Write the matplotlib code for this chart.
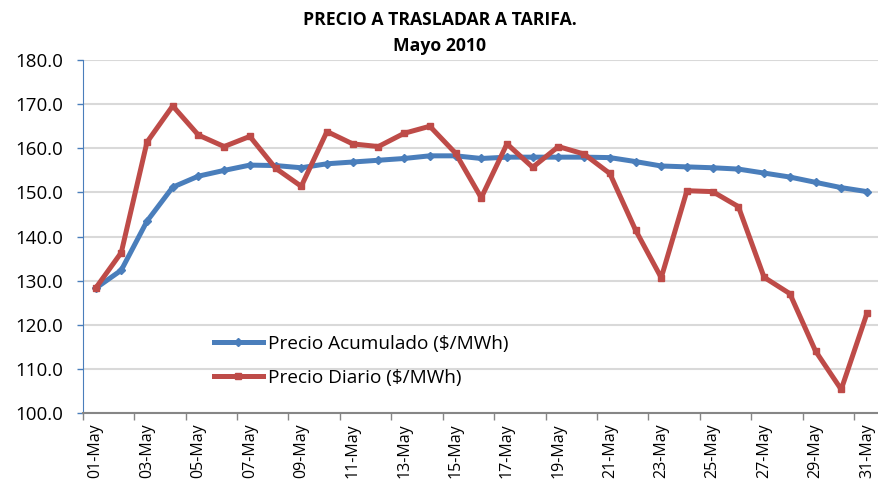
import matplotlib
matplotlib.use("Agg")
import matplotlib.pyplot as plt

plt.rcParams['font.family'] = ['Open Sans', 'DejaVu Sans']

days = list(range(1, 32))
day_labels = ["%02d-May" % d for d in days]

acumulado = [128.3, 132.4, 143.5, 151.2, 153.7, 155.0, 156.2, 156.1, 155.6, 156.5,
             156.9, 157.3, 157.7, 158.3, 158.3, 157.7, 158.0, 158.0, 158.0, 158.0,
             157.9, 157.0, 156.0, 155.8, 155.6, 155.3, 154.4, 153.5, 152.3, 151.1,
             150.2]
diario = [128.3, 136.4, 161.4, 169.6, 163.0, 160.4, 162.7, 155.5, 151.4, 163.8,
          161.0, 160.4, 163.4, 165.0, 158.9, 148.8, 161.0, 155.7, 160.4, 158.7,
          154.3, 141.5, 130.7, 150.4, 150.2, 146.8, 130.8, 127.1, 114.1, 105.4,
          122.6]

W, H = 879, 484
fig = plt.figure(figsize=(W / 100, H / 100), dpi=100)
left, right, top, bottom = 82.7, 905.5, 60.0, 413.3
ax = fig.add_axes([left / W, 1 - bottom / H, (right - left) / W, (bottom - top) / H])

blue = "#4A7EBB"
red = "#BE4B48"
ax.plot(days, acumulado, color=blue, lw=3.6, marker="D", ms=4, label="Precio Acumulado ($/MWh)", zorder=3)
ax.plot(days, diario, color=red, lw=3.6, marker="s", ms=4.5, label="Precio Diario ($/MWh)", zorder=4)

ax.set_xlim(0.5, 32.5)
ax.set_ylim(100, 180)
ax.set_yticks(range(100, 181, 10))
ax.set_yticklabels(["%.1f" % v for v in range(100, 181, 10)], fontsize=13.5)
ax.set_xticks(days[::2])
ax.set_xticklabels(day_labels[::2], rotation=90, fontsize=11.5)
ax.set_xticks([d + 0.5 for d in range(0, 33, 2)], minor=True)
ax.tick_params(axis="x", which="major", length=0, pad=7)
ax.tick_params(axis="x", which="minor", length=5, color="#868686", width=1)
ax.tick_params(axis="y", length=4, color=blue, width=1, pad=10)

ax.grid(axis="y", color="#D9D9D9", lw=1.5)
ax.set_axisbelow(True)
for s in ["top", "right"]:
    ax.spines[s].set_visible(False)
ax.spines["left"].set_color(blue)
ax.spines["bottom"].set_color("#868686")
ax.spines["bottom"].set_linewidth(1.5)

fig.text(0.5, 1 - 20 / H, "PRECIO A TRASLADAR A TARIFA.", ha="center", va="center",
         fontsize=12.7, fontweight="bold")
fig.text(0.5, 1 - 46 / H, "Mayo 2010", ha="center", va="center", fontsize=12.7, fontweight="bold")

leg = ax.legend(loc="upper left", bbox_to_anchor=((206 - left) / (right - left), (bottom - 327) / (bottom - top)),
                frameon=False, fontsize=13.7, handlelength=2.6, handletextpad=0.25, labelspacing=0.85,
                borderaxespad=0)

fig.savefig("out.png", dpi=100)
